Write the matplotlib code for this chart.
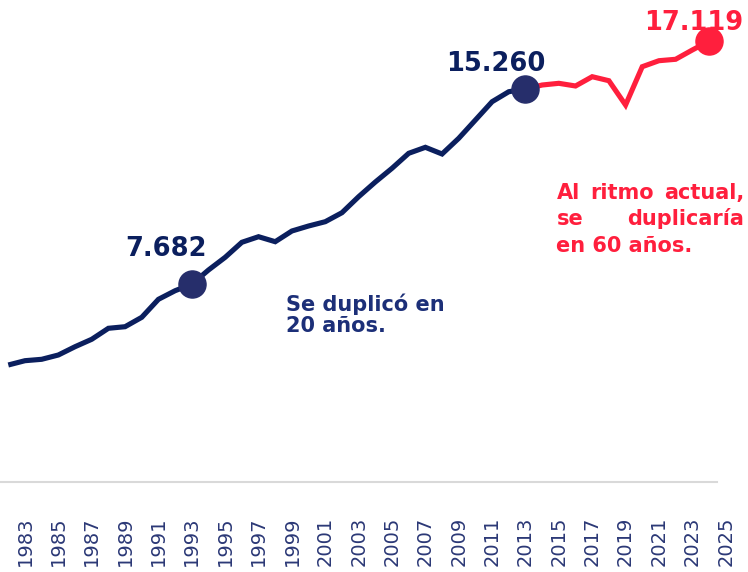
import matplotlib
matplotlib.use("Agg")
import matplotlib.pyplot as plt

# ---- data ----
years = list(range(1982, 2025))
values = [4544, 4711, 4765, 4932, 5254, 5542, 5969, 6031, 6396, 7095, 7429, 7682,
          8233, 8726, 9309, 9526, 9332, 9748, 9942, 10109, 10458, 11080, 11650,
          12183, 12765, 12998, 12738, 13348, 14058, 14769, 15157, 15260,
          15417, 15483, 15379, 15740, 15584, 14641, 16128, 16361, 16416, 16777, 17119]
split_year = 2013
highlight_years = [1993, 2013, 2024]
highlight_labels = ["7.682", "15.260", "17.119"]
tick_years = list(range(1983, 2026, 2))
note_left = "Se duplicó en\n20 años."
note_right_lines = ["Al ritmo actual,", "se duplicaría", "en 60 años."]

NAVY = "#0B1F5E"
NAVY_MK = "#262E6B"
NAVY_TXT = "#1C2F78"
RED = "#FF1F3D"
TICK_C = "#2B3876"

W, H = 748, 572
fig = plt.figure(figsize=(W / 100, H / 100), dpi=100)
ax = fig.add_axes([0, (H - 482) / H, 1, 482 / H])

px_per_year = 16.683
x0 = 1982 - 8.3 / px_per_year
x1 = 1982 + (W - 8.3) / px_per_year
ax.set_xlim(x0, x1)
ax.set_ylim(0, 482 / 0.02575)

si = years.index(split_year)
ax.plot(years[:si + 1], values[:si + 1], color=NAVY, lw=3.7, solid_joinstyle="miter",
        solid_capstyle="butt", zorder=3)
ax.plot(years[si:], values[si:], color=RED, lw=3.7, solid_joinstyle="miter",
        solid_capstyle="butt", zorder=3)

offsets = {1993: (-18.4, 20.4), 2013: (-21.2, 12.7), 2024: (-11.2, 8.4)}
for yr, lab in zip(highlight_years, highlight_labels):
    v = values[years.index(yr)]
    col_mk = RED if yr > split_year else NAVY_MK
    col_tx = RED if yr > split_year else NAVY
    ax.plot([yr], [v], "o", ms=19.5, color=col_mk, mec=col_mk, zorder=4)
    ax.annotate(lab, (yr, v), xytext=offsets[yr], textcoords="offset points",
                ha="center", va="baseline", fontsize=18.5, fontweight="bold",
                color=col_tx, family="DejaVu Sans", zorder=5, annotation_clip=False)

# axes styling
for s in ["top", "right", "left"]:
    ax.spines[s].set_visible(False)
ax.spines["bottom"].set_color("#D9D9D9")
ax.spines["bottom"].set_linewidth(1.5)
ax.spines["bottom"].set_bounds(x0, 1982 + (717 - 8.3) / px_per_year)
ax.set_yticks([])
ax.set_xticks(tick_years)
ax.set_xticklabels([str(y) for y in tick_years], rotation=90,
                   fontsize=14, color=TICK_C, family="DejaVu Sans")
ax.tick_params(axis="x", length=0, pad=25)
ax.patch.set_visible(False)

# left note (va baseline refers to last line)
fig.text(286 / W, 1 - 332.5 / H, note_left, ha="left", va="baseline",
         fontsize=15, fontweight="bold", color=NAVY_TXT, linespacing=1.12,
         family="DejaVu Sans")

# right note (justified)
fig.canvas.draw()
r = fig.canvas.get_renderer()
left_px, right_px = 556.5, 744
baselines = [199.3, 225.5, 251.5]
for i, (line, by) in enumerate(zip(note_right_lines, baselines)):
    words = line.split(" ")
    if i == len(note_right_lines) - 1:
        fig.text(left_px / W, 1 - by / H, line, ha="left", va="baseline",
                 fontsize=15, fontweight="bold", color=RED, family="DejaVu Sans")
        continue
    ts = [fig.text(0, 1 - by / H, w, ha="left", va="baseline", fontsize=15,
                   fontweight="bold", color=RED, family="DejaVu Sans") for w in words]
    widths = [t.get_window_extent(renderer=r).width for t in ts]
    gap = (right_px - left_px - sum(widths)) / (len(words) - 1)
    x = left_px
    for t, wdt in zip(ts, widths):
        t.set_x(x / W)
        x += wdt + gap

fig.savefig("out.png", dpi=100)
